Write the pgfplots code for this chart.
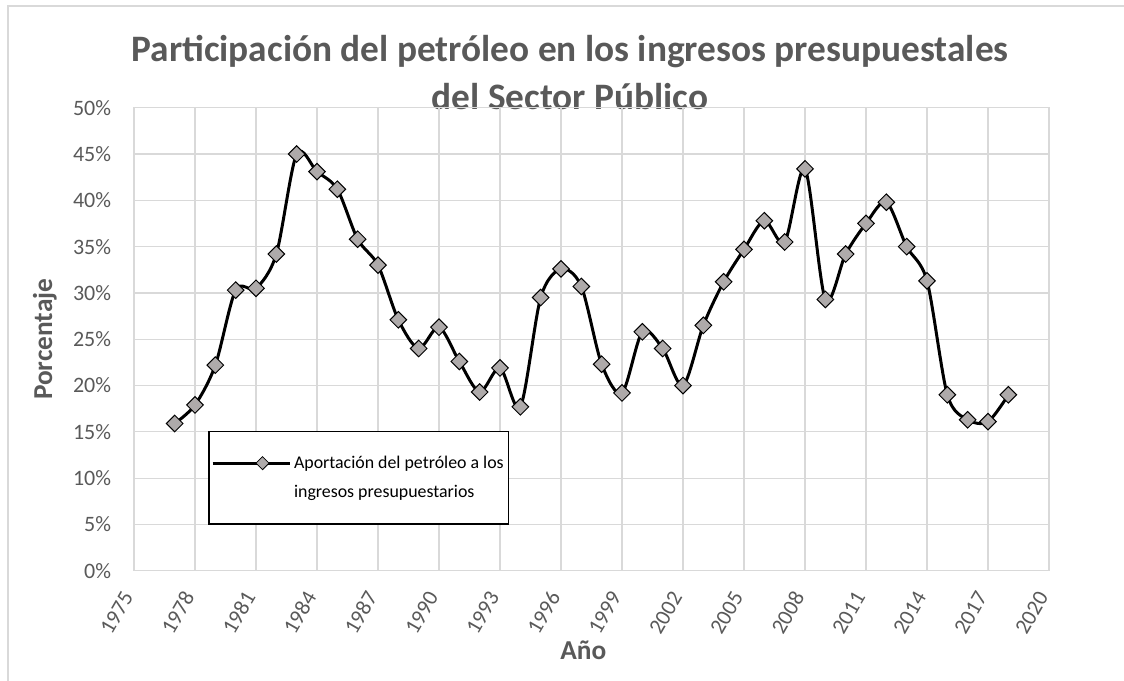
\documentclass[border=0pt]{standalone}
\usepackage{fontspec}
\setmainfont{Carlito}
\usepackage{pgfplots}
\pgfplotsset{compat=1.18}
\definecolor{gridgray}{HTML}{D9D9D9}
\definecolor{txtgray}{HTML}{595959}
\definecolor{markgray}{HTML}{AEAAAA}

\pgfplotstableread{
year val
1977 15.9
1978 17.9
1979 22.2
1980 30.3
1981 30.5
1982 34.2
1983 45.0
1984 43.1
1985 41.2
1986 35.8
1987 33.0
1988 27.1
1989 24.0
1990 26.3
1991 22.6
1992 19.3
1993 21.9
1994 17.7
1995 29.5
1996 32.6
1997 30.7
1998 22.3
1999 19.2
2000 25.8
2001 24.0
2002 20.0
2003 26.5
2004 31.2
2005 34.7
2006 37.8
2007 35.5
2008 43.4
2009 29.3
2010 34.2
2011 37.5
2012 39.8
2013 35.0
2014 31.3
2015 19.0
2016 16.3
2017 16.1
2018 19.0
}\petroleo

\begin{document}
\begin{tikzpicture}
\path[use as bounding box] (0,0) rectangle (843pt,510.75pt);
\draw[gridgray, line width=1.1pt] (6pt,0) -- (6pt,506.25pt) -- (843pt,506.25pt);
% title, two lines
\node[font=\fontsize{28}{34}\selectfont\bfseries, text=txtgray, anchor=base]
  at (427.5pt,464.25pt) {Participación del petróleo en los ingresos presupuestales};
\node[font=\fontsize{28}{34}\selectfont\bfseries, text=txtgray, anchor=base]
  at (427.5pt,428.25pt) {del Sector Público};

\begin{axis}[
    at={(100.5pt,82.7pt)}, anchor=south west,
    scale only axis,
    width=686.25pt, height=347.25pt,
    xmin=1975, xmax=2020,
    ymin=0, ymax=50,
    xtick={1975,1978,...,2020},
    ytick={0,5,...,50},
    yticklabel={\pgfmathprintnumber{\tick}\%},
    /pgf/number format/assume math mode=true,
    /pgf/number format/set thousands separator={},
    grid=major,
    grid style={draw=gridgray, line width=0.9pt},
    axis line style={draw=gridgray, line width=0.9pt},
    major tick length=0pt,
    tick label style={font=\fontsize{16.5}{20}\selectfont, text=txtgray},
    yticklabel style={anchor=east, inner sep=0pt, xshift=-17pt},
    xticklabel style={anchor=east, inner sep=0pt, xshift=-4.5pt, yshift=-17pt, rotate=60},
    xlabel={Año},
    ylabel={Porcentaje},
    label style={font=\fontsize{20.5}{24}\selectfont\bfseries, text=txtgray},
    xlabel style={at={(axis description cs:0.491,-0.171)}, anchor=center},
    ylabel style={at={(axis description cs:-0.0973,0.5)}, anchor=center},
    legend style={at={(0.0812,0.3024)}, anchor=north west,
        draw=black, line width=1.1pt,
        inner xsep=1.5pt, inner ysep=16.5pt,
        font=\fontsize{13.4}{21.75}\selectfont,
        cells={anchor=west, align=left}},
    legend image code/.code={
        \path (-17pt,11pt) -- (41pt,11pt);
        \draw[line width=2.25pt, black] (0pt,11pt) -- (41pt,11pt);
        \draw[black, fill=markgray, line width=0.6pt]
            (20.5pt,15.9pt) -- (25.4pt,11pt) -- (20.5pt,6.1pt) -- (15.6pt,11pt) -- cycle;
    },
]
\addplot[black, line width=2.25pt, smooth, tension=0.5,
    mark=square*, mark size=4.4pt,
    mark options={rotate=45, fill=markgray, draw=black, line width=0.75pt, solid}]
    table[x=year, y=val] {\petroleo};
\addlegendentry{Aportación del petróleo a los\\ingresos presupuestarios}
\end{axis}
\end{tikzpicture}
\end{document}
